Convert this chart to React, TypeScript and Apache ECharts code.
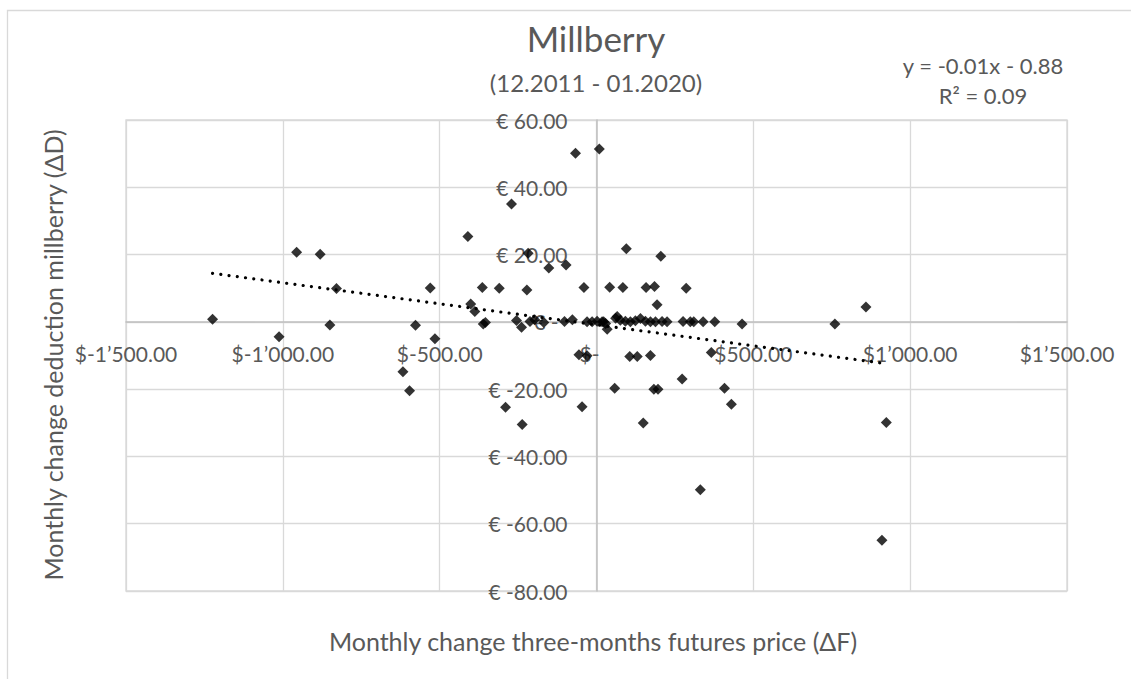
import React, { useEffect, useRef } from "react";
import * as echarts from "echarts";

// Monthly change three-months futures price (ΔF), USD
const futuresChange: number[] = [
  -1224, -1012, -956, -881, -850, -829, -617, -596, -577, -530,
  -515, -410, -401, -388, -364, -361, -354, -310, -290, -271,
  -255, -239, -237, -222, -218, -212, -197, -168, -152, -102,
  -97, -77, -67, -56, -46, -40, -30, -30, -14, 2,
  9, 18, 23, 29, 34, 42, 58, 61, 66, 76,
  84, 92, 95, 106, 108, 124, 130, 140, 149, 156,
  158, 172, 172, 183, 185, 188, 193, 196, 205, 209,
  225, 273, 276, 286, 299, 310, 331, 340, 366, 377,
  408, 430, 464, 760, 859, 910, 924,
];
// Monthly change deduction millberry (ΔD), EUR
const deductionChange: number[] = [
  0.8, -4.4, 20.7, 20.1, -0.9, 9.9, -14.8, -20.5, -1.0, 10.1,
  -5.0, 25.4, 5.3, 3.1, 10.2, -0.6, -0.2, 10.0, -25.4, 35.0,
  0.4, -1.6, -30.5, 9.5, 20.4, 0.1, 0.6, -0.2, 16.0, 0.1,
  16.9, 0.6, 50.1, -9.8, -25.2, 10.2, -10.1, 0.0, 0.0, 0.2,
  51.4, 0.0, 0.0, -0.5, -2.2, 10.3, -19.7, 1.1, 1.6, 0.5,
  10.2, 0.2, 21.7, -10.3, 0.0, 0.3, -10.3, 1.0, -30.1, 0.2,
  10.2, -10.0, 0.0, -20.0, 10.5, 0.0, 5.1, -20.0, 19.5, 0.1,
  0.0, -17.0, 0.1, 10.0, 0.0, 0.0, -49.9, 0.0, -9.1, 0.0,
  -19.7, -24.5, -0.6, -0.6, 4.4, -64.9, -29.9,
];
// Linear trendline end points (at min and max ΔF)
const trendX: number[] = [-1224, 924];
const trendY: number[] = [14.42, -12.43];

const xMin = -1500;
const xMax = 1500;
const yMin = -80;
const yMax = 60;

const titleText = "Millberry";
const subtitleText = "(12.2011 - 01.2020)";
const equationText = "y = -0.01x - 0.88";
const r2Text = "R² = 0.09";
const xAxisTitle = "Monthly change three-months futures price (ΔF)";
const yAxisTitle = "Monthly change deduction millberry (ΔD)";

const FONT = "Lato, 'Open Sans', sans-serif";
const GRAY = "#595959";

const W = 1131;
const H = 679;
const GRID = { left: 126, right: 64, top: 120, bottom: 88 };

function fmtThousands(v: number): string {
  const abs = Math.abs(v).toFixed(2);
  const [ip, dp] = abs.split(".");
  const withSep = ip.replace(/\B(?=(\d{3})+(?!\d))/g, "’");
  return (v < 0 ? "-" : "") + withSep + "." + dp;
}

export default function App() {
  const ref = useRef<HTMLDivElement>(null);
  useEffect(() => {
    if (!ref.current) return;
    const chart = echarts.init(ref.current, null, { renderer: "svg" });
    const points = futuresChange.map((x, i) => [x, deductionChange[i]]);
    const trend = trendX.map((x, i) => [x, trendY[i]]);
    const labelBase = { fontFamily: FONT, fontSize: 21, color: GRAY };
    // place axes where the other axis is zero (Excel style crossing)
    const plotW = W - GRID.left - GRID.right;
    const plotH = H - GRID.top - GRID.bottom;
    const yAxisOffset = -((0 - xMin) / (xMax - xMin)) * plotW;
    const xAxisOffset = -((0 - yMin) / (yMax - yMin)) * plotH;
    chart.setOption({
      animation: false,
      backgroundColor: "#ffffff",
      grid: {
        ...GRID,
        show: true,
        borderColor: "#d9d9d9",
        borderWidth: 1.3,
        containLabel: false,
        outerBoundsMode: "none",
      },
      xAxis: {
        type: "value",
        min: xMin,
        max: xMax,
        interval: 500,
        position: "bottom",
        offset: xAxisOffset,
        axisLine: { show: true, onZero: false, lineStyle: { color: "#bfbfbf", width: 1.5 } },
        axisTick: { show: false },
        splitLine: { show: true, lineStyle: { color: "#d9d9d9", width: 1.3 } },
        axisLabel: {
          ...labelBase,
          margin: 21,
          showMinLabel: true,
          showMaxLabel: true,
          hideOverlap: false,
          formatter: (v: number) => (v === 0 ? "{z|$-}" : "$" + fmtThousands(v)),
          rich: { z: { ...labelBase, padding: [0, 14, 0, 0] } },
        },
      },
      yAxis: {
        type: "value",
        min: yMin,
        max: yMax,
        interval: 20,
        position: "left",
        offset: yAxisOffset,
        axisLine: { show: true, onZero: false, lineStyle: { color: "#bfbfbf", width: 1.5 } },
        axisTick: { show: false },
        splitLine: { show: true, lineStyle: { color: "#d9d9d9", width: 1.3 } },
        axisLabel: {
          ...labelBase,
          margin: 29,
          showMinLabel: true,
          showMaxLabel: true,
          hideOverlap: false,
          formatter: (v: number) => (v === 0 ? "{z|€ -}" : "€ " + v.toFixed(2)),
          rich: { z: { ...labelBase, padding: [0, 9, 0, 0] } },
        },
      },
      series: [
        {
          type: "scatter",
          data: points,
          symbol: "diamond",
          symbolSize: 11,
          itemStyle: { color: "#000000" },
          z: 3,
        },
        {
          type: "line",
          data: trend,
          showSymbol: false,
          symbol: "none",
          lineStyle: { color: "#000000", width: 3.2, type: [0.01, 8.3], cap: "round" },
          z: 4,
        },
      ],
      graphic: [
        {
          type: "rect",
          shape: { x: 7.5, y: 10.5, width: 1200, height: 800 },
          style: { fill: "none", stroke: "#d9d9d9", lineWidth: 1.3 },
          silent: true,
          z: -10,
        },
        {
          type: "text",
          x: 596,
          y: 38,
          style: { text: titleText, fontFamily: FONT, fontSize: 35, fill: GRAY, align: "center", verticalAlign: "middle" },
        },
        {
          type: "text",
          x: 596,
          y: 82,
          style: { text: subtitleText, fontFamily: FONT, fontSize: 24, fill: GRAY, align: "center", verticalAlign: "middle" },
        },
        {
          type: "text",
          x: 983,
          y: 65,
          style: { text: equationText, fontFamily: FONT, fontSize: 22, fill: GRAY, align: "center", verticalAlign: "middle" },
        },
        {
          type: "text",
          x: 983,
          y: 95,
          style: { text: r2Text, fontFamily: FONT, fontSize: 22, fill: GRAY, align: "center", verticalAlign: "middle" },
        },
        {
          type: "text",
          x: 593,
          y: 641,
          style: { text: xAxisTitle, fontFamily: FONT, fontSize: 25, fill: GRAY, align: "center", verticalAlign: "middle" },
        },
        {
          type: "text",
          x: 53,
          y: 355,
          rotation: Math.PI / 2,
          style: { text: yAxisTitle, fontFamily: FONT, fontSize: 25, fill: GRAY, align: "center", verticalAlign: "middle" },
        },
      ],
    });
    return () => chart.dispose();
  }, []);
  return (
    <div
      ref={ref}
      style={{ position: "absolute", left: 0, top: 0, width: W, height: H }}
    />
  );
}
